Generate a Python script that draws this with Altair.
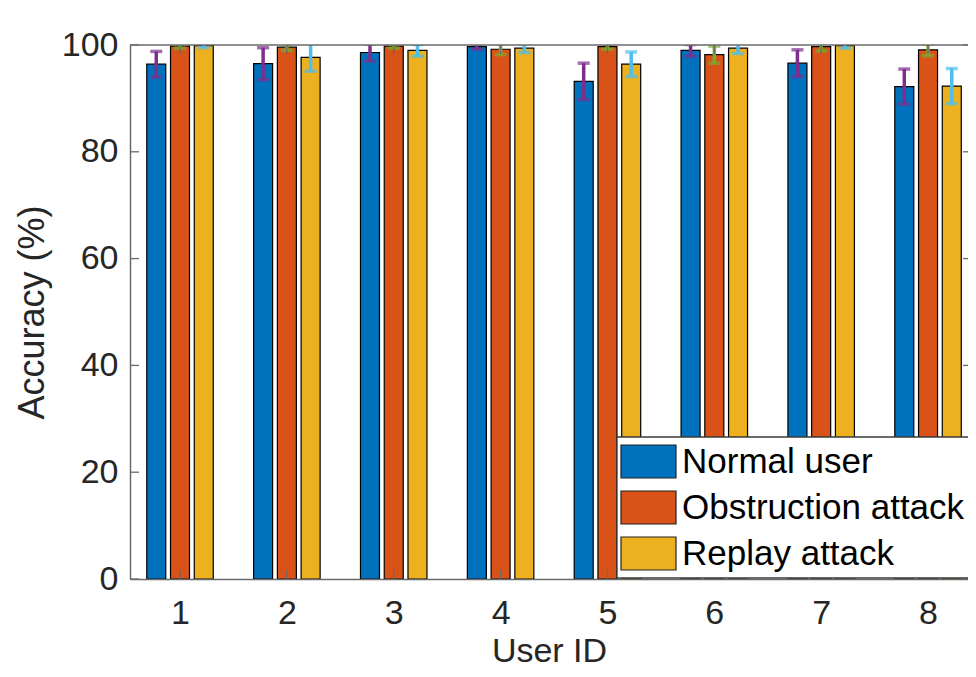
import altair as alt
import pandas as pd

# ---- data ----
users = [1, 2, 3, 4, 5, 6, 7, 8]
series = ["Normal user", "Obstruction attack", "Replay attack"]
normal_mean = [96.4, 96.5, 98.6, 99.7, 93.2, 99.0, 96.6, 92.2]
normal_err = [2.4, 3.0, 1.6, 0.5, 3.4, 1.1, 2.5, 3.3]
obstruction_mean = [99.8, 99.6, 99.8, 99.2, 99.7, 98.2, 99.7, 99.1]
obstruction_err = [0.4, 0.6, 0.4, 1.0, 0.5, 1.6, 0.8, 1.1]
replay_mean = [99.9, 97.7, 99.0, 99.4, 96.4, 99.4, 99.9, 92.3]
replay_err = [0.4, 2.6, 1.1, 0.8, 2.3, 1.0, 0.5, 3.3]
y_ticks = [0, 20, 40, 60, 80, 100]

bar_colors = ["#0072BD", "#D95319", "#EDB120"]
err_colors = ["#7E2F8E", "#77AC30", "#4DBEEE"]
axis_color = "#6a6a6a"
text_color = "#262626"
FONT = "Liberation Sans"

W, H = 838, 534
group_step = 2.0 / 9.0  # MATLAB grouped-bar spacing for 3 series

means = [normal_mean, obstruction_mean, replay_mean]
errs = [normal_err, obstruction_err, replay_err]
rows = []
for k, s in enumerate(series):
    for i, u in enumerate(users):
        m, e = means[k][i], errs[k][i]
        rows.append({"user": u, "series": s, "mean": m, "err": e,
                     "lo": m - e, "hi": m + e, "pos": u + (k - 1) * group_step})
df = pd.DataFrame(rows)

xscale = alt.Scale(domain=[0.532, 8.374], nice=False, zero=False, padding=0)
yscale = alt.Scale(domain=[0, 100], nice=False)
bar_color = alt.Color("series:N", scale=alt.Scale(domain=series, range=bar_colors), legend=None)
err_color = alt.Color("series:N", scale=alt.Scale(domain=series, range=err_colors), legend=None)

bars = alt.Chart(df).mark_bar(size=19, orient="vertical", stroke="black", strokeWidth=1.2).encode(
    x=alt.X("pos:Q", scale=xscale,
            axis=alt.Axis(values=users, format="d", ticks=False, grid=False, domain=True,
                          domainColor=axis_color, domainWidth=1.5, labelFontSize=34,
                          labelPadding=17, title="User ID", titleFontSize=34,
                          titlePadding=4, zindex=1)),
    y=alt.Y("mean:Q", scale=yscale,
            axis=alt.Axis(values=y_ticks, ticks=False, grid=False, domain=True,
                          domainColor=axis_color, domainWidth=1.5, labelFontSize=34,
                          labelPadding=12, title="Accuracy (%)", titleFontSize=36,
                          titlePadding=10, zindex=1)),
    color=bar_color,
)

stems = alt.Chart(df).mark_rule(strokeWidth=3.5, clip=True).encode(
    x=alt.X("pos:Q", scale=xscale), y=alt.Y("lo:Q", scale=yscale), y2="hi:Q", color=err_color)
cap_lo = alt.Chart(df).mark_tick(thickness=3.5, size=12, orient="horizontal", clip=True).encode(
    x=alt.X("pos:Q", scale=xscale), y=alt.Y("lo:Q", scale=yscale), color=err_color)
cap_hi = alt.Chart(df).mark_tick(thickness=3.5, size=12, orient="horizontal", clip=True).encode(
    x=alt.X("pos:Q", scale=xscale), y=alt.Y("hi:Q", scale=yscale), color=err_color)

udf = pd.DataFrame({"user": users})
ydf = pd.DataFrame({"v": y_ticks})
tick_bottom = alt.Chart(udf).mark_rule(color=axis_color, strokeWidth=1.3).encode(
    x=alt.X("user:Q", scale=xscale), y=alt.value(H), y2=alt.value(H - 9))
tick_top = alt.Chart(udf).mark_rule(color=axis_color, strokeWidth=1.3).encode(
    x=alt.X("user:Q", scale=xscale), y=alt.value(0), y2=alt.value(9))
tick_left = alt.Chart(ydf).mark_rule(color=axis_color, strokeWidth=1.3).encode(
    y=alt.Y("v:Q", scale=yscale), x=alt.value(0), x2=alt.value(9))
tick_right = alt.Chart(ydf).mark_rule(color=axis_color, strokeWidth=1.3).encode(
    y=alt.Y("v:Q", scale=yscale), x=alt.value(W - 5), x2=alt.value(W))
top_line = alt.Chart(udf.head(1)).mark_rule(color=axis_color, strokeWidth=1.5).encode(
    x=alt.value(0), x2=alt.value(W), y=alt.value(0))

# ---- legend box drawn inside the plot, running past the right edge ----
one = pd.DataFrame({"a": [0]})
legend_box = alt.Chart(one).mark_rect(fill="white", stroke="#3a3a3a", strokeWidth=1.3).encode(
    x=alt.value(487), x2=alt.value(W + 40), y=alt.value(392), y2=alt.value(533))
legend_layers = [legend_box]
for k, s in enumerate(series):
    sdf = pd.DataFrame({"series": [s]})
    top = 400 + k * 46
    legend_layers.append(
        alt.Chart(sdf).mark_rect(stroke="#222", strokeWidth=1.2).encode(
            x=alt.value(491), x2=alt.value(546), y=alt.value(top), y2=alt.value(top + 33),
            color=bar_color))
    legend_layers.append(
        alt.Chart(sdf).mark_text(align="left", baseline="middle", fontSize=35, font=FONT,
                                 color="black").encode(
            x=alt.value(552), y=alt.value(top + 17), text="series:N"))

chart = alt.layer(
    bars, stems, cap_lo, cap_hi, tick_bottom, tick_top, tick_left, tick_right, top_line,
    *legend_layers
).resolve_scale(color="independent").properties(
    width=W, height=H,
    autosize=alt.AutoSizeParams(type="none"),
    padding={"left": 122, "top": 37, "right": 0, "bottom": 89},
).configure_view(stroke=None).configure_axis(
    labelFont=FONT, titleFont=FONT, labelColor=text_color, titleColor=text_color,
    titleFontWeight="normal"
)

chart.save("out.html", embed_options={"renderer": "svg", "actions": False})
